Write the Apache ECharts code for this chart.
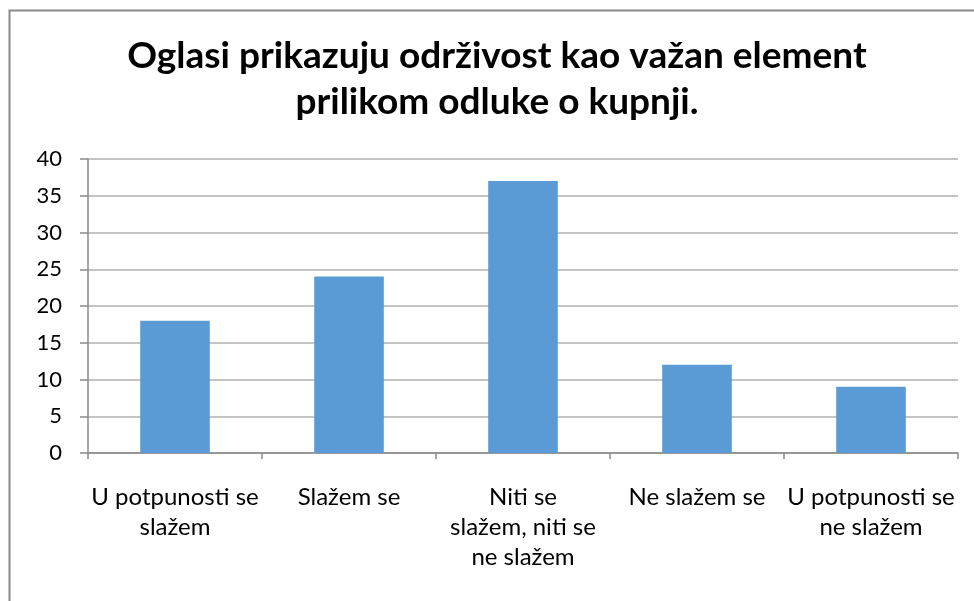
<!DOCTYPE html>
<html>
<head>
<meta charset="utf-8">
<script src="https://cdn.jsdelivr.net/npm/echarts@6/dist/echarts.min.js"></script>
<style>
html,body{margin:0;padding:0;background:#fff;}
#chart{width:974px;height:601px;}
</style>
</head>
<body>
<div id="chart"></div>
<script>
const titleText = "Oglasi prikazuju održivost kao važan element\nprilikom odluke o kupnji.";
const categories = ["U potpunosti se\nslažem", "Slažem se", "Niti se\nslažem, niti se\nne slažem", "Ne slažem se", "U potpunosti se\nne slažem"];
const values = [18, 24, 37, 12, 9];
const yMin = 0, yMax = 40, yStep = 5;

const chart = echarts.init(document.getElementById('chart'), null, {renderer: 'canvas'});
chart.setOption({
  animation: false,
  backgroundColor: '#fff',
  textStyle: {fontFamily: 'Lato'},
  graphic: [{
    type: 'rect', left: 7, top: 8,
    shape: {x: 0, y: 0, width: 1000, height: 1000},
    style: {fill: 'none', stroke: '#898989', lineWidth: 2},
    silent: true
  }, {
    type: 'text', x: 497, y: 33,
    style: {text: titleText, textAlign: 'center', textVerticalAlign: 'top', font: 'bold 37px Lato', lineHeight: 46, fill: '#000'},
    silent: true
  }],
  grid: {left: 88, right: 16, top: 159, bottom: 148, containLabel: false},
  xAxis: {
    type: 'category', data: categories,
    axisLine: {lineStyle: {color: '#888', width: 1.5}},
    axisTick: {show: true, length: 6, lineStyle: {color: '#888', width: 1.5}},
    axisLabel: {interval: 0, margin: 29, fontSize: 24, lineHeight: 30, color: '#000', fontFamily: 'Lato'}
  },
  yAxis: {
    type: 'value', min: yMin, max: yMax, interval: yStep,
    axisLine: {show: true, lineStyle: {color: '#888', width: 1.5}},
    axisTick: {show: true, length: 8, lineStyle: {color: '#888', width: 1.5}},
    splitLine: {lineStyle: {color: '#b0b0b0', width: 1.5}},
    axisLabel: {margin: 26, fontSize: 22, color: '#000', fontFamily: 'Lato'}
  },
  series: [{
    type: 'bar', data: values, barCategoryGap: '60%',
    itemStyle: {color: '#5B9BD5'}
  }]
});
</script>
</body>
</html>
